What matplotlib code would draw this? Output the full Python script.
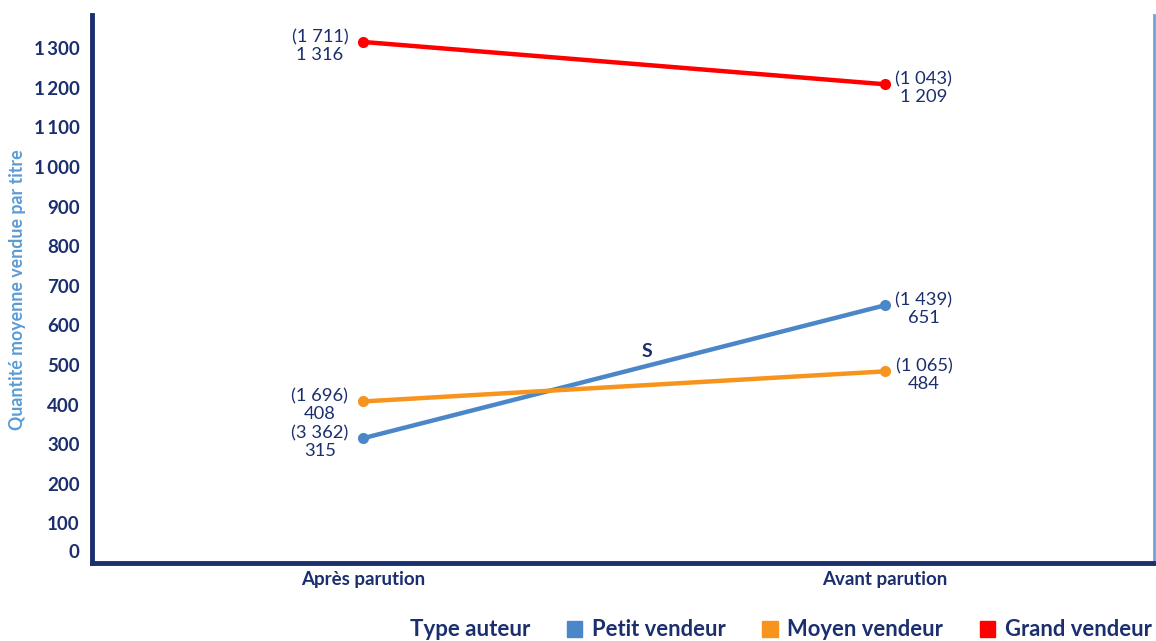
import matplotlib.pyplot as plt
import matplotlib.transforms as mtransforms
from matplotlib.patches import Patch

plt.rcParams["font.family"] = ["Lato", "DejaVu Sans"]

# data
periods = ["Après parution", "Avant parution"]
series = ["Petit vendeur", "Moyen vendeur", "Grand vendeur"]
petit = [315, 651]
moyen = [408, 484]
grand = [1316, 1209]
counts_petit = ["(3 362)", "(1 439)"]
counts_moyen = ["(1 696)", "(1 065)"]
counts_grand = ["(1 711)", "(1 043)"]
yticks = list(range(0, 1400, 100))
ytick_labels = ["0", "100", "200", "300", "400", "500", "600", "700", "800",
                "900", "1\u2009000", "1\u2009100", "1\u2009200", "1\u2009300"]

navy = "#1b2f6e"
colors = ["#4a86c8", "#f7941d", "#ff0000"]


def fmt(v):
    return f"{v:,}".replace(",", " ")


fig = plt.figure(figsize=(11.56, 6.41), dpi=100)
ax = fig.add_axes([92 / 1156, 1 - 563 / 641, (1154 - 92) / 1156, (563 - 15) / 641])

x = [0, 1]
values = [petit, moyen, grand]
counts = [counts_petit, counts_moyen, counts_grand]
for vals, cnt, col in zip(values, counts, colors):
    ax.plot(x, vals, color=col, lw=3.2, marker="o", ms=7, solid_capstyle="round", zorder=3)
    ax.annotate(f"{cnt[0]}\n{fmt(vals[0])}", (x[0], vals[0]), xytext=(-31, -3),
                textcoords="offset points", ha="center", va="center",
                fontsize=13.2, color=navy, linespacing=1.12)
    ax.annotate(f"{cnt[1]}\n{fmt(vals[1])}", (x[1], vals[1]), xytext=(28, -3),
                textcoords="offset points", ha="center", va="center",
                fontsize=13.2, color=navy, linespacing=1.12)

ax.text(0.544, 533, "S", fontsize=14, fontweight="bold", color=navy, ha="center", va="center")

ax.set_xlim(-0.519, 1.515)
ax.set_ylim(0, 1384)
ax.set_xticks(x)
ax.set_xticklabels(periods, fontsize=13.5, fontweight="bold", color=navy)
ax.set_yticks(yticks)
ax.set_yticklabels(ytick_labels, fontsize=13.5, fontweight="bold", color=navy)
ax.tick_params(length=0, axis="y", pad=9)
ax.tick_params(length=0, axis="x", pad=6)

# zero label sits a little above the axis line
zero = ax.get_yticklabels()[0]
zero.set_transform(zero.get_transform() + mtransforms.ScaledTranslation(0, 12 / 100, fig.dpi_scale_trans))

ax.spines["top"].set_visible(False)
ax.spines["left"].set_color(navy)
ax.spines["left"].set_linewidth(3.5)
ax.spines["bottom"].set_color(navy)
ax.spines["bottom"].set_linewidth(3.5)
ax.spines["right"].set_color("#6fa3dc")
ax.spines["right"].set_linewidth(2)

fig.text(18 / 1156, 1 - 290 / 641, "Quantité moyenne vendue par titre", rotation=90,
         ha="center", va="center", fontsize=12.8, fontweight="bold", color="#5b9bd5")

fig.text(410 / 1156, 1 - 630 / 641, "Type auteur", ha="left", va="center",
         fontsize=16, fontweight="bold", color=navy)
handles = [Patch(color=c) for c in colors]
leg = fig.legend(handles, series, loc="center left", bbox_to_anchor=(567 / 1156, 1 - 630 / 641),
                 ncol=3, frameon=False, fontsize=15.8, handlelength=0.7, handleheight=0.7,
                 handletextpad=0.45, columnspacing=1.65, borderaxespad=0, borderpad=0)
for t in leg.get_texts():
    t.set_color(navy)
    t.set_fontweight("bold")

fig.savefig("out.png", dpi=100)
